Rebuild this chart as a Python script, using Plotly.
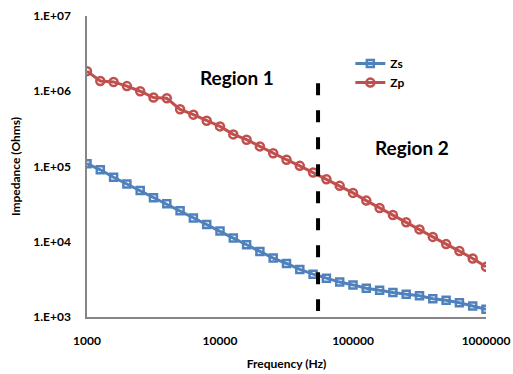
import plotly.graph_objects as go

freq_hz = [1000, 1259, 1585, 1995, 2512, 3162, 3981, 5012, 6310, 7943,
           10000, 12589, 15849, 19953, 25119, 31623, 39811, 50119, 63096, 79433,
           100000, 125893, 158489, 199526, 251189, 316228, 398107, 501187, 630957, 794328,
           1000000]

zs_ohms = [109000, 90400, 72000, 58700, 47900, 38300, 31900, 25900, 20700, 16900,
           13900, 11200, 9120, 7430, 6060, 5140, 4280, 3710, 3280, 2910,
           2670, 2410, 2270, 2110, 2010, 1910, 1750, 1670, 1550, 1400,
           1270]

zp_ohms = [1850000, 1370000, 1330000, 1170000, 1000000, 824000, 807000, 575000, 489000, 406000,
           341000, 267000, 227000, 185000, 150000, 123000, 102000, 83200, 67800, 55300,
           44600, 35200, 28100, 22700, 18100, 14600, 11600, 9310, 7520, 5990,
           4640]

boundary_freq = [54600, 54600]
boundary_ohms = [1.28e6, 1.2e3]

x_tickvals = [1000, 10000, 100000, 1000000]
x_ticktext = ["1000", "10000", "100000", "1000000"]
y_tickvals = [1e3, 1e4, 1e5, 1e6, 1e7]
y_ticktext = ["1.E+03", "1.E+04", "1.E+05", "1.E+06", "1.E+07"]

BLUE = "#4F81BD"
RED = "#C0504D"
FONT = "Lato"

fig = go.Figure()
fig.add_trace(go.Scatter(
    x=freq_hz, y=zs_ohms, name="Zs", mode="lines+markers",
    line=dict(color=BLUE, width=3),
    marker=dict(symbol="square-open", size=7, color=BLUE, line=dict(width=2.5, color=BLUE)),
))
fig.add_trace(go.Scatter(
    x=freq_hz, y=zp_ohms, name="Zp", mode="lines+markers",
    line=dict(color=RED, width=3),
    marker=dict(symbol="circle-open", size=8, color=RED, line=dict(width=2.5, color=RED)),
))
fig.add_trace(go.Scatter(
    x=boundary_freq, y=boundary_ohms, mode="lines", showlegend=False, hoverinfo="skip",
    line=dict(color="black", width=4, dash="12px,15px"),
))

fig.add_annotation(x=4.128, y=6.187, xref="x", yref="y", text="Region 1", showarrow=False,
                   font=dict(family=FONT, size=19, color="black", weight="bold"))
fig.add_annotation(x=5.441, y=5.257, xref="x", yref="y", text="Region 2", showarrow=False,
                   font=dict(family=FONT, size=19, color="black", weight="bold"))

fig.update_layout(
    width=513, height=374,
    margin=dict(l=87, r=27, t=16, b=57),
    paper_bgcolor="white", plot_bgcolor="white",
    font=dict(family=FONT, size=12, color="black", weight="bold"),
    showlegend=True,
    legend=dict(x=0.66, y=0.89, xanchor="left", yanchor="top", bgcolor="rgba(0,0,0,0)",
                font=dict(family=FONT, size=12, color="black", weight="bold"),
                tracegroupgap=0),
)
fig.update_xaxes(
    type="log", range=[3, 6], tickvals=x_tickvals, ticktext=x_ticktext,
    showgrid=False, zeroline=False, showline=True, linecolor="#868686", linewidth=1.5,
    ticks="", ticklabelstandoff=12, automargin=False,
    title=dict(text="Frequency (Hz)", standoff=12, font=dict(family=FONT, size=12, weight="bold")),
)
fig.update_yaxes(
    type="log", range=[3, 7], tickvals=y_tickvals, ticktext=y_ticktext,
    showgrid=False, zeroline=False, showline=True, linecolor="#868686", linewidth=1.5,
    ticks="", ticklabelstandoff=12, automargin=False,
    title=dict(text="Impedance (Ohms)", standoff=10, font=dict(family=FONT, size=12, weight="bold")),
)

fig.write_html("out.html",
               config={"displayModeBar": False},
               post_script="document.body.style.margin='0';document.body.style.padding='0';")
